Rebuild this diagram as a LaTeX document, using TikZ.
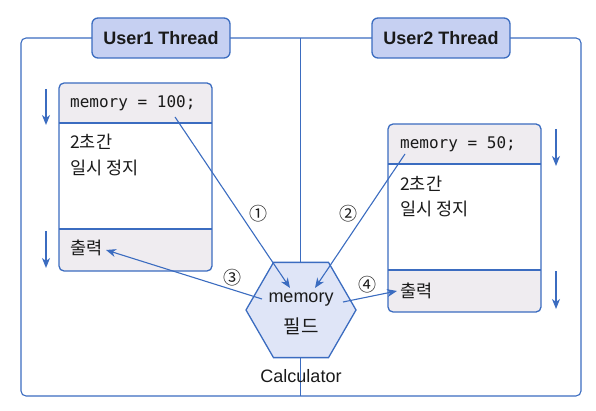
\documentclass[tikz,border=0pt]{standalone}
\usepackage{fontspec}
\setmainfont{Liberation Sans}
\setmonofont{DejaVu Sans Mono}
\newfontfamily\kr{Noto Sans CJK KR}
\usetikzlibrary{shapes.geometric,arrows.meta}
\definecolor{bl}{HTML}{3B6CC0}
\definecolor{titlefill}{HTML}{C6D0F2}
\definecolor{band}{HTML}{EFECF0}
\definecolor{hexfill}{HTML}{DFE5F7}
\definecolor{txt}{HTML}{1A1A1A}
\tikzset{
  frameline/.style={draw=bl, line width=1.1pt},
  titlebox/.style={draw=bl, fill=titlefill, line width=1.3pt, rounded corners=6pt,
    minimum width=138pt, minimum height=40pt, inner sep=0pt, text=txt,
    font=\bfseries\fontsize{18}{20}\selectfont},
  conn/.style={draw=bl, line width=1.1pt, -{Stealth[length=10pt,width=8pt,inset=3pt]}},
  flow/.style={draw=bl, line width=1.3pt, -{Stealth[length=10pt,width=8pt,inset=3pt]}},
  code/.style={font=\ttfamily\fontsize{16}{18}\selectfont, anchor=west, inner sep=0pt, text=txt},
  krt/.style={font=\kr\fontsize{17.5}{20}\selectfont, anchor=west, inner sep=0pt, text=txt},
  num/.style={font=\kr\fontsize{18}{20}\selectfont, inner sep=0pt, text=txt},
  latin/.style={font=\fontsize{18}{20}\selectfont, inner sep=0pt, text=txt},
  boxline/.style={draw=bl, line width=1.3pt},
}
\begin{document}
\begin{tikzpicture}[x=1pt,y=-1pt]
\useasboundingbox (0,0) rectangle (596,411);
% outer frame and middle divider
\draw[frameline, rounded corners=5pt] (21,38) rectangle (581,396);
\draw[frameline] (300.5,38) -- (300.5,396);
% title boxes
\node[titlebox] (t1) at (161,38) {User1 Thread};
\node[titlebox] (t2) at (441,38) {User2 Thread};
% left thread box
\fill[band, rounded corners=5pt] (59,83) rectangle (212,271);
\fill[white] (59,123) rectangle (212,229);
\draw[boxline] (59,123) -- (212,123);
\draw[boxline] (59,229) -- (212,229);
\draw[boxline, rounded corners=5pt] (59,83) rectangle (212,271);
% right thread box
\fill[band, rounded corners=5pt] (388,124) rectangle (541,312);
\fill[white] (388,164) rectangle (541,270);
\draw[boxline] (388,164) -- (541,164);
\draw[boxline] (388,270) -- (541,270);
\draw[boxline, rounded corners=5pt] (388,124) rectangle (541,312);
% texts
\node[code] (c1) at (70,103) {memory = 100;};
\node[krt] (s1a) at (70,142) {2초간};
\node[krt] (s1b) at (70,168) {일시 정지};
\node[krt] (o1) at (70,248) {출력};
\node[code] (c2) at (400,144) {memory = 50;};
\node[krt] (s2a) at (400,184) {2초간};
\node[krt] (s2b) at (400,209) {일시 정지};
\node[krt] (o2) at (400,291) {출력};
% flow arrows
\coordinate (fa1) at (46,89);  \coordinate (fb1) at (46,125);
\coordinate (fa2) at (46,231); \coordinate (fb2) at (46,268);
\coordinate (fa3) at (556,129); \coordinate (fb3) at (556,166);
\coordinate (fa4) at (556,271); \coordinate (fb4) at (556,309);
\draw[flow] (fa1) -- (fb1);
\draw[flow] (fa2) -- (fb2);
\draw[flow] (fa3) -- (fb3);
\draw[flow] (fa4) -- (fb4);
% hexagon
\node[regular polygon, regular polygon sides=6, minimum size=110pt, inner sep=0pt,
      draw=bl, fill=hexfill, line width=1.3pt] (hex) at (301,310) {};
\node[latin] (hm) at (301,300) {memory};
\node[font=\kr\fontsize{19}{21}\selectfont, inner sep=0pt, text=txt] (hf) at (301,326) {필드};
\node[latin] (calc) at (301,376) {Calculator};
% connectors
\coordinate (a1) at (175,117); \coordinate (b1) at (290,288);
\coordinate (a2) at (405,154); \coordinate (b2) at (315,288);
\coordinate (a3) at (262,299); \coordinate (b3) at (106,250);
\coordinate (a4) at (343,302); \coordinate (b4) at (397,291);
\draw[conn] (a1) -- (b1);
\draw[conn] (a2) -- (b2);
\draw[conn] (a3) -- (b3);
\draw[conn] (a4) -- (b4);
\node[num] (n1) at (258,214) {①};
\node[num] (n2) at (348,214) {②};
\node[num] (n3) at (232,278) {③};
\node[num] (n4) at (367,285) {④};
\end{tikzpicture}
\end{document}
